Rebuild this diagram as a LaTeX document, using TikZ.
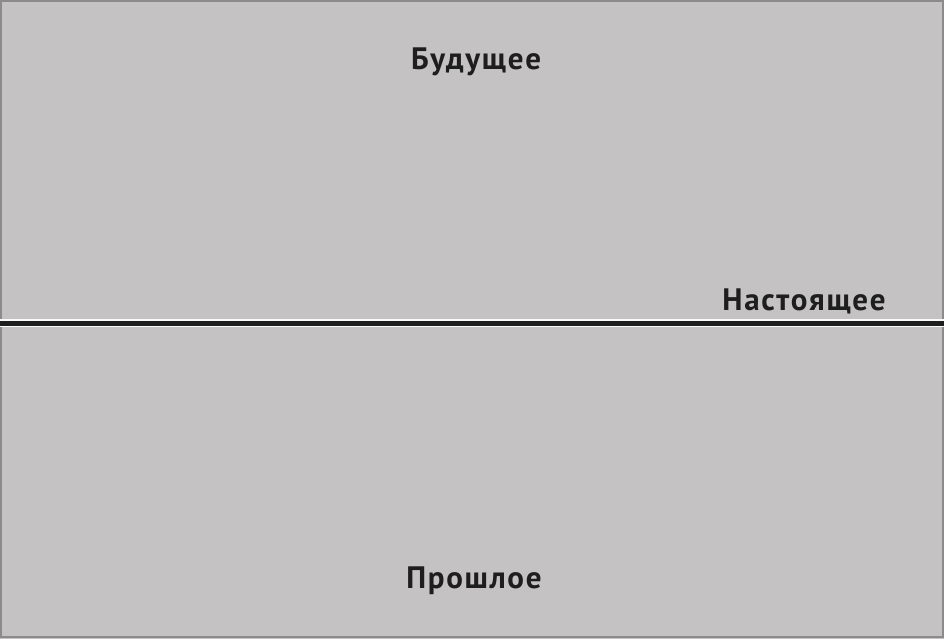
\documentclass[tikz,border=0pt]{standalone}
\usepackage{fontspec}
\setmainfont{PT Sans}
\newfontfamily\lblfont[LetterSpace=5.5]{PT Sans}
\definecolor{bg}{HTML}{C4C2C3}
\definecolor{frame}{HTML}{8C8A8B}
\definecolor{ink}{HTML}{1E1E1E}
\begin{document}
\begin{tikzpicture}[x=1pt,y=-1pt,
  lbl/.style={font=\lblfont\bfseries\fontsize{31}{36}\selectfont, text=ink, inner sep=0pt, anchor=base}]
\useasboundingbox (0,0) rectangle (944,639);
\fill[bg] (0,0) rectangle (944,639);
\draw[frame, line width=1.5pt] (1,1) rectangle (943,637);
\coordinate (L) at (0,323);
\coordinate (R) at (944,323);
\draw[white!92!bg, line width=8pt] (L) -- (R);
\draw[ink, line width=5pt] (L) -- (R);
\node[lbl] (future) at (476,70) {Будущее};
\node[lbl] (present) at (804,310) {Настоящее};
\node[lbl] (past) at (474,588) {Прошлое};
\end{tikzpicture}
\end{document}
